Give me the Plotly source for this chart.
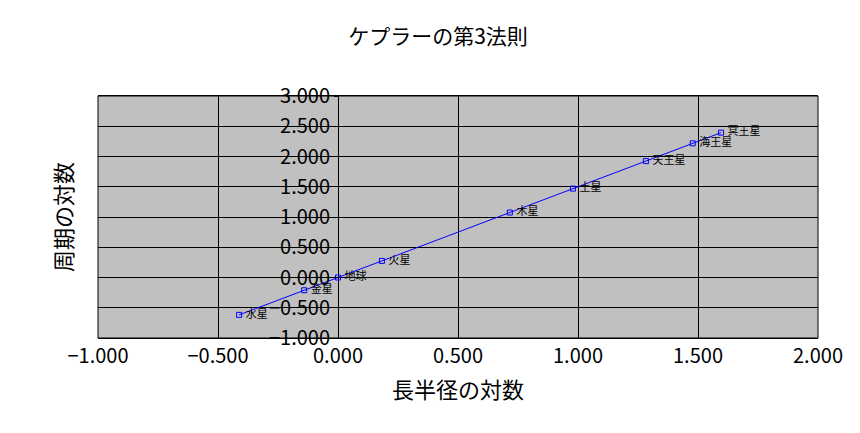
import plotly.graph_objects as go

# 惑星の軌道長半径(AU)と公転周期(年)の常用対数
planets = ["水星", "金星", "地球", "火星", "木星", "土星", "天王星", "海王星", "冥王星"]
log_a = [-0.412, -0.141, 0.000, 0.183, 0.716, 0.979, 1.283, 1.478, 1.596]
log_t = [-0.618, -0.211, 0.000, 0.274, 1.074, 1.469, 1.924, 2.217, 2.394]

FONT = "Noto Sans CJK JP"

fig = go.Figure()
fig.add_trace(go.Scatter(
    x=log_a, y=log_t, mode="lines+markers+text",
    text=[" " + p for p in planets], textposition="middle right",
    textfont=dict(size=11, color="black", family=FONT),
    line=dict(color="#0000ff", width=1),
    marker=dict(symbol="square-open", size=5, color="#0000ff", line=dict(width=1)),
    cliponaxis=False,
))

fig.update_layout(
    width=860, height=433,
    margin=dict(l=90, r=50, t=88, b=103),
    paper_bgcolor="white", plot_bgcolor="#c0c0c0",
    font=dict(family=FONT, color="black"),
    showlegend=False,
    title=dict(text="ケプラーの第3法則", x=0.5, y=0.95, xanchor="center",
               font=dict(size=21)),
    xaxis=dict(range=[-1, 2], dtick=0.5, tickformat=".3f", automargin=False,
               showgrid=True, gridcolor="black", gridwidth=1,
               zeroline=False, showline=True, linecolor="black", mirror=True,
               tickfont=dict(size=20),
               title=dict(text="長半径の対数", font=dict(size=22), standoff=14)),
    yaxis=dict(range=[-1, 3], dtick=0.5, tickformat=".3f", automargin=False,
               showgrid=True, gridcolor="black", gridwidth=1,
               zeroline=True, zerolinecolor="black", zerolinewidth=1,
               anchor="free", position=1/3, showline=False,
               ticks="outside", ticklen=4, tickcolor="black",
               tickfont=dict(size=20)),
    annotations=[dict(text="周期の対数", xref="paper", yref="paper",
                      x=-0.075, y=0.5, textangle=-90, showarrow=False,
                      font=dict(size=22, family=FONT))],
    shapes=[dict(type="rect", xref="paper", yref="paper", x0=0, x1=1, y0=0, y1=1,
                 line=dict(color="black", width=1))],
)

fig.write_html("out.html")
